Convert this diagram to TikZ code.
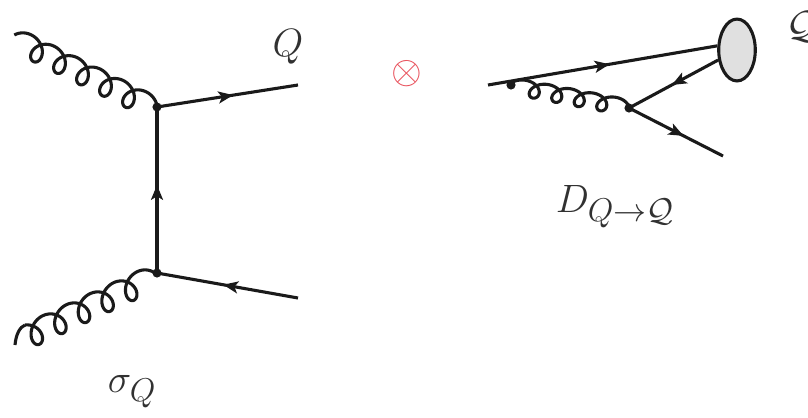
\documentclass[tikz,border=0pt]{standalone}
\usepackage{amsmath,amssymb}
\usepackage{xcolor}
\usetikzlibrary{arrows.meta,decorations.markings,shapes.geometric}
\definecolor{ink}{HTML}{1A1A1A}
\definecolor{blobfill}{HTML}{E0E0E0}
\definecolor{opred}{HTML}{E8505B}
% anchor (first arch top), step x, step y, loop width, loop height, from, to
\newcommand{\gluonline}[7]{\draw[gluon,shift={(#1)},domain=#6:#7,samples=420] plot ({(\x-90)/360*#2-#4*cos(\x)},{(\x-90)/360*#3+#5*(1-sin(\x))});}

\begin{document}
\begin{tikzpicture}[x=0.025cm,y=-0.025cm,
  fermion/.style={draw=ink,line width=2.2pt,postaction={decorate},
    decoration={markings,mark=at position #1 with {\arrow[ink]{Stealth[length=10.5pt,width=8.5pt,inset=2.5pt]}}}},
  gluon/.style={draw=ink,line width=2.2pt,line join=round},
  vertexdot/.style={circle,fill=ink,inner sep=0pt,minimum size=6.5pt},
  lab/.style={font=\fontsize{24.88}{30}\selectfont,text=ink!90,inner sep=0pt,scale=1.13}]
\useasboundingbox (0,0) rectangle (808,417);
% left graph
\node[vertexdot] (vtop) at (157,107) {};
\node[vertexdot] (vbot) at (157,273) {};
\coordinate (gtop) at (25,33);
\coordinate (gbot) at (15,345);
\coordinate (gbotarch) at (25,325);
\coordinate (qout) at (298,85);
\coordinate (qbar) at (298,298);
\gluonline{gtop}{23}{11.4}{11}{11.6}{45}{1985}
\draw[gluon] (gbot) .. controls (16,334) and (20,327) .. (gbotarch);
\gluonline{gbotarch}{23.6}{-11}{11}{12.5}{90}{1940}
\draw[fermion=0.54] (vtop.center) -- (qout);
\draw[fermion=0.53] (vbot.center) -- (vtop.center);
\draw[fermion=0.53] (qbar) -- (vbot.center);
\node[lab] (qlab) at (288,47) {$Q$};
\node[lab] (siglab) at (132,392) {$\sigma_Q$};
% convolution
\node[lab,text=opred] (conv) at (407,74) {$\otimes$};
% right graph
\node[draw=ink,fill=blobfill,line width=2.2pt,ellipse,minimum width=26pt,minimum height=44pt,inner sep=0pt] (blob) at (737,50) {};
\node[vertexdot] (vglue) at (511,85) {};
\node[vertexdot] (vpair) at (629,108) {};
\coordinate (qin) at (488,85);
\coordinate (qend) at (723,156);
\coordinate (garch) at (523,80);
\draw[fermion=0.53] (qin) -- (blob.168);
\gluonline{garch}{22.5}{4.25}{10}{8}{25}{1625}
\draw[fermion=0.52] (blob.208) -- (vpair.center);
\draw[fermion=0.58] (vpair.center) -- (qend);
\node[lab] (hadlab) at (803,27) {$\mathcal{Q}$};
\node[lab] (fraglab) at (615,207) {$D_{Q\to\mathcal{Q}}$};
\end{tikzpicture}
\end{document}
